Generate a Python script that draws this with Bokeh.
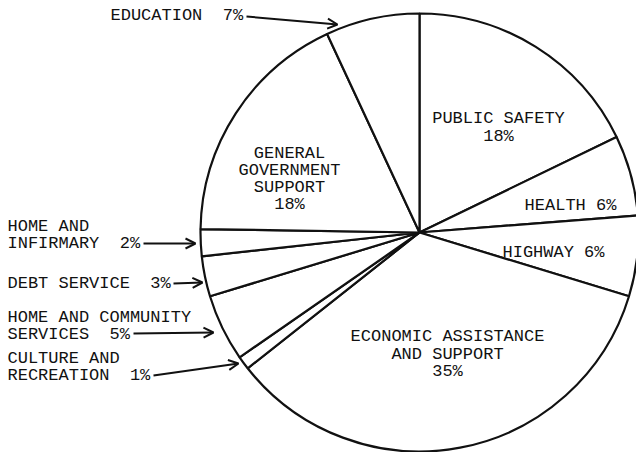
import math
from bokeh.plotting import figure
from bokeh.models import Range1d, Arrow, OpenHead, ColumnDataSource
from bokeh.core.properties import value
from bokeh.embed import file_html
from bokeh.resources import INLINE

# ---- data (clockwise from 12 o'clock) ----
categories = ["PUBLIC SAFETY", "HEALTH", "HIGHWAY", "ECONOMIC ASSISTANCE AND SUPPORT",
              "CULTURE AND RECREATION", "HOME AND COMMUNITY SERVICES", "DEBT SERVICE",
              "HOME AND INFIRMARY", "GENERAL GOVERNMENT SUPPORT", "EDUCATION"]
values = [18, 6, 6, 35, 1, 5, 3, 2, 18, 7]
label_texts = ["PUBLIC SAFETY\n18%", "HEALTH 6%", "HIGHWAY 6%",
               "ECONOMIC ASSISTANCE\nAND SUPPORT\n35%", "CULTURE AND\nRECREATION  1%",
               "HOME AND COMMUNITY\nSERVICES  5%", "DEBT SERVICE  3%",
               "HOME AND\nINFIRMARY  2%", "GENERAL\nGOVERNMENT\nSUPPORT\n18%", "EDUCATION  7%"]

# ---- layout (screen pixel coordinates) ----
W, H = 636, 452
CX, CY, R = 419, 232, 219
# label anchor: x, y of first line, alignment, line spacing
label_pos = [(498, 118, "center", 18), (570, 205, "center", 17), (502, 252, "left", 17),
             (447, 336, "center", 17.5), (7, 358, "left", 16.5), (7, 317, "left", 17),
             (7, 283, "left", 17), (7, 226, "left", 17), (289, 153, "center", 17),
             (110, 15, "left", 17)]
arrows = [((246, 16), (337, 24)), ((143, 243), (195, 243)), ((173, 283), (202, 282)),
          ((133, 333), (213, 332)), ((153, 375), (238, 363))]

p = figure(width=W, height=H, output_backend="svg", toolbar_location=None,
           x_range=Range1d(0, W), y_range=Range1d(-H, 0), min_border=0)
p.axis.visible = False
p.grid.visible = False
p.outline_line_color = None
p.background_fill_color = "white"
p.border_fill_color = "white"

total = float(sum(values))
starts, ends = [], []
cum = 0.0
for v in values:
    a0 = math.pi / 2 - 2 * math.pi * cum / total
    cum += v
    a1 = math.pi / 2 - 2 * math.pi * cum / total
    starts.append(a1)
    ends.append(a0)

src = ColumnDataSource(dict(x=[CX] * len(values), y=[-CY] * len(values),
                            start=starts, end=ends, cat=categories, val=values))
p.wedge(x="x", y="y", radius=R, start_angle="start", end_angle="end", source=src,
        fill_color="white", line_color="#111111", line_width=2.2)

tx, ty, tt, ta = [], [], [], []
for text, (x, y, align, dy) in zip(label_texts, label_pos):
    for i, line in enumerate(text.split("\n")):
        tx.append(x)
        ty.append(-(y + i * dy))
        tt.append(line.replace("  ", " \u00a0"))
        ta.append(align)
p.text(x=tx, y=ty, text=tt, text_align=ta, text_baseline="middle",
       text_font=value("Liberation Mono"), text_font_size="17px", text_color="#111111")

for (x0, y0), (x1, y1) in arrows:
    p.add_layout(Arrow(x_start=x0, y_start=-y0, x_end=x1, y_end=-y1,
                       line_color="#111111", line_width=2,
                       end=OpenHead(size=10, line_color="#111111", line_width=2)))

open("out.html", "w").write(file_html(p, INLINE))
